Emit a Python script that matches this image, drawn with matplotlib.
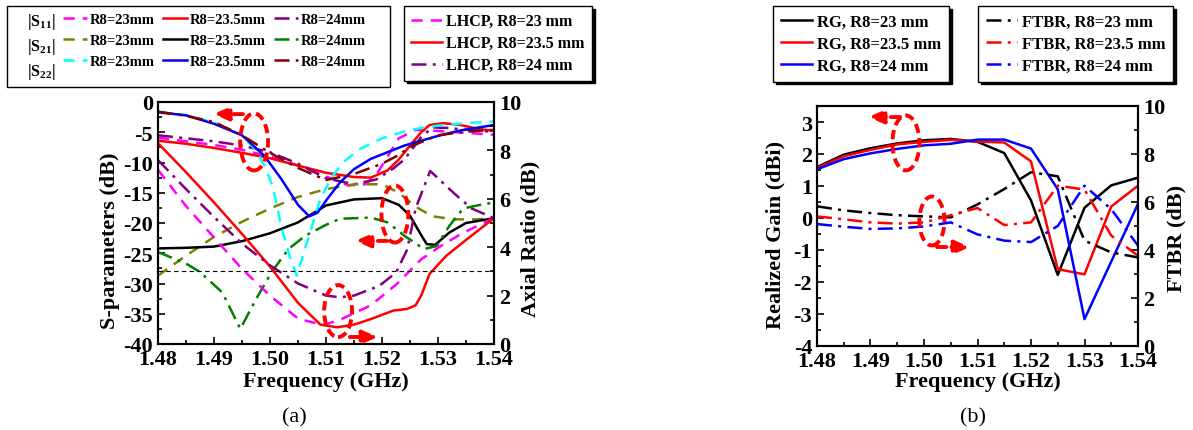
import matplotlib
matplotlib.use('Agg')
import matplotlib.pyplot as plt
from matplotlib.patches import Ellipse, Rectangle, Shadow
from matplotlib.ticker import MultipleLocator, FormatStrFormatter

plt.rcParams['font.family'] = ['Liberation Serif', 'DejaVu Serif']
plt.rcParams['font.weight'] = 'bold'
plt.rcParams['axes.unicode_minus'] = False
plt.rcParams['mathtext.fontset'] = 'custom'
plt.rcParams['mathtext.rm'] = 'Liberation Serif:bold'
plt.rcParams['mathtext.bf'] = 'Liberation Serif:bold'
plt.rcParams['mathtext.it'] = 'Liberation Serif:bold'
plt.rcParams['mathtext.default'] = 'bf'

# ---------------- Panel (a) data ----------------
f_s11_23 = [1.48, 1.485, 1.49, 1.495, 1.50, 1.505, 1.51, 1.514, 1.517, 1.519, 1.521, 1.523, 1.526, 1.53, 1.535, 1.54]
s11_23 = [-5.9, -6.5, -7.1, -7.9, -9.0, -10.5, -12.3, -13.8, -13.6, -12.0, -9.0, -6.0, -4.6, -4.8, -5.1, -5.4]

f_s11_235 = [1.48, 1.485, 1.49, 1.495, 1.50, 1.505, 1.51, 1.515, 1.518, 1.521, 1.523, 1.525, 1.527, 1.5285, 1.531, 1.534, 1.537, 1.54]
s11_235 = [-6.4, -6.9, -7.6, -8.4, -9.3, -10.5, -11.7, -12.4, -12.5, -11.3, -9.5, -7.2, -5.0, -3.8, -3.5, -3.8, -4.4, -4.8]

f_s11_24 = [1.48, 1.485, 1.49, 1.495, 1.50, 1.505, 1.51, 1.515, 1.519, 1.522, 1.524, 1.527, 1.529, 1.532, 1.536, 1.54]
s11_24 = [-5.5, -6.0, -6.5, -7.2, -8.3, -10.2, -12.6, -13.6, -12.8, -11.0, -9.5, -5.8, -4.2, -4.3, -4.7, -4.9]

f_s21_23 = [1.48, 1.485, 1.49, 1.495, 1.50, 1.505, 1.51, 1.515, 1.52, 1.523, 1.526, 1.529, 1.533, 1.537, 1.54]
s21_23 = [-28.7, -25.4, -22.3, -19.8, -17.6, -15.7, -14.4, -13.6, -13.6, -15.0, -17.3, -18.9, -19.4, -19.4, -19.2]

f_s21_235 = [1.48, 1.485, 1.49, 1.495, 1.50, 1.505, 1.51, 1.515, 1.52, 1.523, 1.525, 1.527, 1.528, 1.5295, 1.532, 1.535, 1.54]
s21_235 = [-24.2, -24.1, -23.9, -23.0, -21.7, -19.9, -17.1, -16.1, -15.9, -17.0, -18.8, -22.0, -23.5, -23.6, -21.6, -20.0, -19.2]

f_s21_24 = [1.48, 1.485, 1.4875, 1.4915, 1.4947, 1.4975, 1.5003, 1.5033, 1.5063, 1.51, 1.5125, 1.518, 1.521, 1.524, 1.5275, 1.5298, 1.532, 1.5345, 1.537, 1.54]
s21_24 = [-24.8, -26.7, -28.1, -31.5, -37.5, -32.6, -28.1, -24.3, -22.1, -20.3, -19.3, -19.1, -19.9, -22.1, -24.3, -23.8, -20.5, -17.6, -17.1, -16.6]

f_s22_23 = [1.48, 1.485, 1.49, 1.495, 1.4975, 1.499, 1.5005, 1.502, 1.5035, 1.5048, 1.506, 1.5075, 1.509, 1.511, 1.513, 1.516, 1.52, 1.525, 1.53, 1.535, 1.54]
s22_23 = [-1.6, -2.2, -3.4, -5.5, -8.0, -10.5, -14.0, -20.5, -25.5, -28.7, -25.0, -20.5, -16.0, -12.5, -10.0, -7.8, -6.0, -4.6, -3.9, -3.5, -3.2]

f_s22_235 = [1.48, 1.485, 1.49, 1.495, 1.499, 1.502, 1.505, 1.507, 1.5085, 1.51, 1.5125, 1.515, 1.518, 1.524, 1.53, 1.534, 1.54]
s22_235 = [-1.7, -2.2, -3.6, -5.5, -8.9, -12.7, -17.0, -18.9, -18.3, -16.3, -13.3, -11.1, -9.4, -7.2, -5.6, -4.7, -3.8]

f_s22_24 = [1.48, 1.485, 1.49, 1.495, 1.50, 1.505, 1.51, 1.515, 1.52, 1.5225, 1.5255, 1.53, 1.535, 1.54]
s22_24 = [-1.6, -2.3, -3.3, -5.5, -8.4, -10.9, -12.9, -11.9, -10.2, -9.0, -7.2, -5.5, -4.9, -4.6]

f_ar_23 = [1.48, 1.485, 1.49, 1.495, 1.50, 1.505, 1.5095, 1.5125, 1.518, 1.5225, 1.527, 1.5305, 1.5345, 1.54]
ar_23 = [7.2, 5.7, 4.4, 3.1, 2.0, 1.05, 0.78, 1.0, 1.6, 2.45, 3.5, 4.05, 4.6, 5.2]

f_ar_235 = [1.48, 1.485, 1.49, 1.495, 1.50, 1.505, 1.509, 1.512, 1.515, 1.518, 1.522, 1.5245, 1.526, 1.527, 1.5285, 1.5315, 1.535, 1.54]
ar_235 = [8.3, 7.1, 5.85, 4.55, 3.2, 1.7, 0.8, 0.69, 0.8, 1.03, 1.38, 1.45, 1.6, 2.0, 2.9, 3.65, 4.3, 5.2]

f_ar_24 = [1.48, 1.485, 1.49, 1.495, 1.50, 1.505, 1.51, 1.5125, 1.515, 1.5195, 1.5225, 1.5245, 1.526, 1.5286, 1.533, 1.536, 1.54]
ar_24 = [7.6, 6.4, 5.25, 4.15, 3.25, 2.5, 2.0, 1.93, 2.0, 2.4, 2.95, 3.9, 5.6, 7.15, 6.2, 5.6, 5.2]

ar_limit = 3

# ---------------- Panel (b) data ----------------
f_b = [1.48, 1.485, 1.49, 1.495, 1.50, 1.505, 1.51, 1.515, 1.52, 1.525, 1.53, 1.535, 1.54]
rg_23 = [1.59, 1.98, 2.18, 2.33, 2.43, 2.47, 2.38, 2.03, 0.55, -1.78, 0.32, 1.02, 1.26]
rg_235 = [1.56, 1.93, 2.13, 2.30, 2.38, 2.44, 2.39, 2.36, 1.77, -1.60, -1.76, 0.36, 1.01]
rg_24 = [1.52, 1.84, 2.02, 2.16, 2.27, 2.32, 2.45, 2.45, 2.17, 0.90, -3.16, -1.36, 0.44]
ftbr_23 = [5.82, 5.65, 5.54, 5.45, 5.40, 5.36, 5.90, 6.54, 7.24, 7.07, 4.39, 3.90, 3.69]
ftbr_235 = [5.40, 5.28, 5.15, 5.10, 5.15, 5.45, 5.75, 5.04, 5.15, 6.68, 6.52, 4.60, 3.76]
ftbr_24 = [5.08, 4.97, 4.88, 4.90, 4.98, 5.15, 4.65, 4.39, 4.33, 5.00, 6.68, 5.70, 4.18]

labels_s = ['R8=23mm', 'R8=23.5mm', 'R8=24mm']
labels_ar = ['LHCP, R8=23 mm', 'LHCP, R8=23.5 mm', 'LHCP, R8=24 mm']
labels_rg = ['RG, R8=23 mm', 'RG, R8=23.5 mm', 'RG, R8=24 mm']
labels_ftbr = ['FTBR, R8=23 mm', 'FTBR, R8=23.5 mm', 'FTBR, R8=24 mm']

# ---------------- Figure ----------------
W, H = 1193, 431
fig = plt.figure(figsize=(W / 100, H / 100), dpi=100)
fig.patch.set_facecolor('white')

LW = 1.8
DASH = (0, (4.5, 3.2))
DASHDOT = (0, (6, 2.5, 1.2, 2.5))
TICKFS = 16
LABFS = 16


def style_axis(ax):
    for sp in ax.spines.values():
        sp.set_linewidth(1.5)
    ax.tick_params(which='both', direction='in', width=1.2, labelsize=TICKFS, pad=3.5)
    ax.tick_params(which='major', length=5)
    ax.tick_params(which='minor', length=3)
    ax.tick_params(top=False, which='both')


# ---- Panel (a)
axa = fig.add_axes([158 / W, 86 / H, 336 / W, 242 / H])
axa2 = axa.twinx()

l11a, = axa.plot(f_s11_23, s11_23, color='#FF00FF', lw=LW, ls=DASH)
l11b, = axa.plot(f_s11_235, s11_235, color='#FF0000', lw=LW)
l11c, = axa.plot(f_s11_24, s11_24, color='#800080', lw=LW, ls=DASHDOT)
l21a, = axa.plot(f_s21_23, s21_23, color='#808000', lw=LW, ls=DASH)
l21b, = axa.plot(f_s21_235, s21_235, color='black', lw=LW)
l21c, = axa.plot(f_s21_24, s21_24, color='#008000', lw=LW, ls=DASHDOT)
l22a, = axa.plot(f_s22_23, s22_23, color='#00FFFF', lw=LW, ls=DASH)
l22b, = axa.plot(f_s22_235, s22_235, color='#0000FF', lw=LW)
l22c, = axa.plot(f_s22_24, s22_24, color='#800000', lw=LW, ls=DASHDOT)

lara, = axa2.plot(f_ar_23, ar_23, color='#FF00FF', lw=LW, ls=DASH)
larb, = axa2.plot(f_ar_235, ar_235, color='#FF0000', lw=LW)
larc, = axa2.plot(f_ar_24, ar_24, color='#800080', lw=LW, ls=DASHDOT)
axa2.axhline(ar_limit, color='black', lw=0.8, ls=(0, (4, 3)))

axa.set_xlim(1.48, 1.54)
axa.set_ylim(-40, 0)
axa2.set_ylim(0, 10)
axa.xaxis.set_major_locator(MultipleLocator(0.01))
axa.xaxis.set_minor_locator(MultipleLocator(0.005))
axa.xaxis.set_major_formatter(FormatStrFormatter('%.2f'))
axa.yaxis.set_major_locator(MultipleLocator(5))
axa.yaxis.set_minor_locator(MultipleLocator(2.5))
axa2.yaxis.set_major_locator(MultipleLocator(2))
axa2.yaxis.set_minor_locator(MultipleLocator(1))
style_axis(axa)
style_axis(axa2)
axa.tick_params(right=False, which='both')
axa2.tick_params(axis='y', pad=4)

axa.set_xlabel('Frequency (GHz)', fontsize=LABFS, fontweight='bold')
axa.xaxis.set_label_coords(0.5, -0.112)
axa.set_ylabel('S-parameters (dB)', fontsize=LABFS, fontweight='bold')
axa.yaxis.set_label_coords(-0.113, 0.43)
axa2.set_ylabel('Axial Ratio (dB)', fontsize=LABFS, fontweight='bold')
axa2.yaxis.set_label_coords(1.080, 0.44)

# ---- Panel (b)
axb = fig.add_axes([817 / W, 84 / H, 321 / W, 240 / H])
axb2 = axb.twinx()

lrg1, = axb.plot(f_b, rg_23, color='black', lw=LW)
lrg2, = axb.plot(f_b, rg_235, color='#FF0000', lw=LW)
lrg3, = axb.plot(f_b, rg_24, color='#0000FF', lw=LW)
lft1, = axb2.plot(f_b, ftbr_23, color='black', lw=LW, ls=DASHDOT)
lft2, = axb2.plot(f_b, ftbr_235, color='#FF0000', lw=LW, ls=DASHDOT)
lft3, = axb2.plot(f_b, ftbr_24, color='#0000FF', lw=LW, ls=DASHDOT)

axb.set_xlim(1.48, 1.54)
axb.set_ylim(-4, 3.5)
axb2.set_ylim(0, 10)
axb.xaxis.set_major_locator(MultipleLocator(0.01))
axb.xaxis.set_minor_locator(MultipleLocator(0.005))
axb.xaxis.set_major_formatter(FormatStrFormatter('%.2f'))
axb.yaxis.set_major_locator(MultipleLocator(1))
axb.yaxis.set_minor_locator(MultipleLocator(0.5))
axb2.yaxis.set_major_locator(MultipleLocator(2))
axb2.yaxis.set_minor_locator(MultipleLocator(1))
style_axis(axb)
style_axis(axb2)
axb.tick_params(right=False, which='both')
axb2.tick_params(axis='y', pad=4)

axb.set_xlabel('Frequency (GHz)', fontsize=LABFS, fontweight='bold')
axb.xaxis.set_label_coords(0.5, -0.104)
axb.set_ylabel('Realized Gain (dBi)', fontsize=LABFS, fontweight='bold')
axb.yaxis.set_label_coords(-0.097, 0.467)
axb2.set_ylabel('FTBR (dB)', fontsize=LABFS, fontweight='bold')
axb2.yaxis.set_label_coords(1.090, 0.454)

# ---- Annotations (red dashed ellipses and arrows)
ELS = (0, (2.4, 1.3))


def ellipse(ax, cx, cy, w, h):
    e = Ellipse((cx, cy), w, h, transform=ax.transAxes, fill=False,
                edgecolor='#FF0000', lw=2.8, ls=ELS, zorder=10, clip_on=False)
    ax.add_patch(e)


def arrow(ax, x0, y0, x1, y1):
    ax.annotate('', xy=(x1, y1), xytext=(x0, y0), xycoords='axes fraction',
                textcoords='axes fraction', zorder=10,
                arrowprops=dict(arrowstyle='-|>,head_length=0.75,head_width=0.32',
                                mutation_scale=12, color='#FF0000', lw=2.8,
                                ls=ELS, shrinkA=0, shrinkB=0))


ellipse(axa2, 0.286, 0.835, 0.083, 0.236)
arrow(axa2, 0.253, 0.950, 0.164, 0.950)
ellipse(axa2, 0.705, 0.537, 0.080, 0.236)
arrow(axa2, 0.682, 0.426, 0.586, 0.426)
ellipse(axa2, 0.536, 0.136, 0.083, 0.215)
arrow(axa2, 0.571, 0.029, 0.655, 0.029)

ellipse(axb2, 0.277, 0.846, 0.084, 0.229)
arrow(axb2, 0.259, 0.954, 0.159, 0.954)
ellipse(axb2, 0.358, 0.521, 0.078, 0.204)
arrow(axb2, 0.374, 0.4125, 0.477, 0.4125)

# ---- Legend 1 (S-parameters) with manual frame and row labels
rect = Rectangle((7 / W, 1 - 88 / H), (390 - 7) / W, (88 - 7) / H, transform=fig.transFigure,
                 facecolor='white', edgecolor='black', lw=1.0, zorder=2)
sh = Shadow(rect, 2, -2, color='black', alpha=1.0)
sh.set_zorder(1.9)
fig.add_artist(sh)
fig.add_artist(rect)
for yy, lab in zip([22, 47, 72], [r'|S$_{11}$|', r'|S$_{21}$|', r'|S$_{22}$|']):
    fig.text(27 / W, 1 - yy / H, lab, fontsize=11.5, fontweight='bold', ha='left', va='center', zorder=5)

leg1 = fig.legend(handles=[l11a, l21a, l22a, l11b, l21b, l22b, l11c, l21c, l22c],
                  labels=[labels_s[0]] * 3 + [labels_s[1]] * 3 + [labels_s[2]] * 3,
                  ncol=3, loc='upper left', bbox_to_anchor=(63 / W, 1 - 13.5 / H),
                  bbox_transform=fig.transFigure, frameon=False,
                  prop={'weight': 'bold', 'size': 10.5}, borderpad=0, borderaxespad=0,
                  handlelength=1.65, handletextpad=0.2, columnspacing=0.55, labelspacing=0.56)
leg1.set_zorder(5)


def framed_legend(handles, labels, x, size, hl):
    leg = fig.legend(handles=handles, labels=labels, loc='upper left',
                     bbox_to_anchor=(x / W, 1 - 7 / H), bbox_transform=fig.transFigure,
                     prop={'weight': 'bold', 'size': size}, borderpad=0.45, borderaxespad=0,
                     handlelength=hl, handletextpad=0.3, labelspacing=0.38,
                     fancybox=False, framealpha=1, edgecolor='black',
                     shadow={'color': 'black', 'alpha': 1.0})
    leg.get_frame().set_linewidth(1.0)
    return leg


framed_legend([lara, larb, larc], labels_ar, 404, 11.5, 1.9)
framed_legend([lrg1, lrg2, lrg3], labels_rg, 773, 12, 1.9)
framed_legend([lft1, lft2, lft3], labels_ftbr, 978, 12, 1.9)

# ---- Sub-figure captions
fig.text(294 / W, 1 - 418 / H, '(a)', fontsize=16, fontweight='normal', ha='center', va='center')
fig.text(973 / W, 1 - 418 / H, '(b)', fontsize=16, fontweight='normal', ha='center', va='center')

fig.savefig('out.png', dpi=100, facecolor='white')
